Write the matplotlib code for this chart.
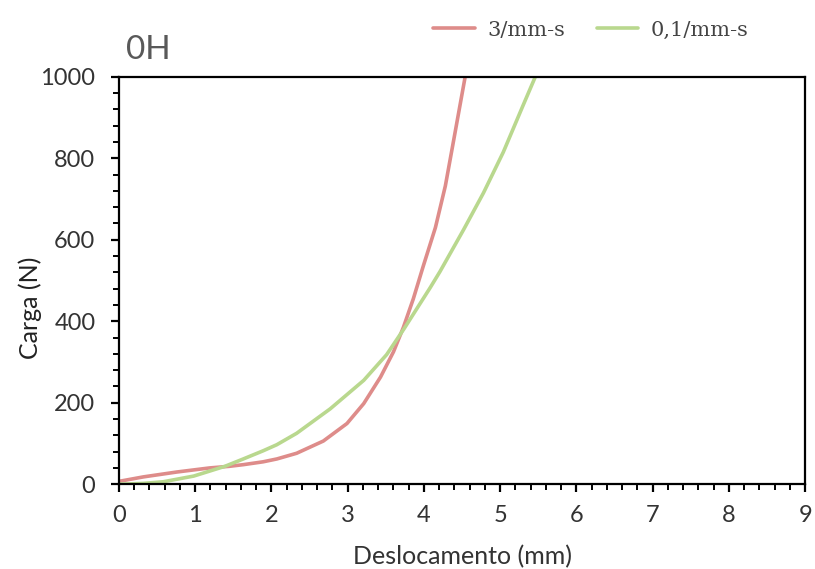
import matplotlib.pyplot as plt
from matplotlib.ticker import MultipleLocator

# 3/mm-s curve
red_x = [0, 0.32, 0.76, 1.19, 1.45, 1.63, 1.89, 2.07, 2.33, 2.68, 2.99, 3.21,
         3.43, 3.60, 3.73, 3.86, 3.99, 4.15, 4.28, 4.39, 4.54]
red_y = [7, 18, 30, 40, 44, 48, 55, 62, 76, 106, 149, 198,
         263, 325, 385, 455, 535, 630, 732, 845, 1000]

# 0,1/mm-s curve
green_x = [0, 0.32, 0.58, 0.98, 1.39, 1.63, 1.89, 2.07, 2.33, 2.77, 3.21, 3.51,
           3.74, 4.08, 4.21, 4.52, 4.78, 5.04, 5.30, 5.46]
green_y = [0, 2, 6, 20, 44, 62, 82, 97, 125, 185, 255, 318,
           382, 482, 522, 625, 715, 815, 930, 1000]

labels = ['3/mm-s', '0,1/mm-s']
colors = ['#DE8C8A', '#B9D88E']

plt.rcParams['font.family'] = ['Lato', 'DejaVu Sans']

fig = plt.figure(figsize=(8.15, 5.69), dpi=100)
ax = fig.add_axes([0.146, 0.149, 0.842, 0.716])

l1, = ax.plot(red_x, red_y, color=colors[0], lw=2.6,
              solid_capstyle='round', solid_joinstyle='round')
l2, = ax.plot(green_x, green_y, color=colors[1], lw=2.6,
              solid_capstyle='round', solid_joinstyle='round')

ax.set_xlim(0, 9)
ax.set_ylim(0, 1000)
ax.xaxis.set_major_locator(MultipleLocator(1))
ax.xaxis.set_minor_locator(MultipleLocator(0.2))
ax.yaxis.set_major_locator(MultipleLocator(200))
ax.yaxis.set_minor_locator(MultipleLocator(40))

for s in ax.spines.values():
    s.set_linewidth(1.6)
    s.set_color('black')

ax.tick_params(axis='x', which='major', direction='out', length=6, width=1.6,
               labelsize=17, pad=9, labelcolor='#333333')
ax.tick_params(axis='x', which='minor', direction='out', length=4, width=1.4)
ax.tick_params(axis='y', which='major', direction='out', length=6, width=1.6,
               labelsize=17, pad=11, labelcolor='#333333')
ax.tick_params(axis='y', which='minor', direction='out', length=4.5, width=1.4)

ax.set_xlabel('Deslocamento (mm)', fontsize=18, color='#333333')
ax.xaxis.set_label_coords(0.5, -0.15)
ax.set_ylabel('Carga (N)', fontsize=18, color='#222222')
ax.yaxis.set_label_coords(-0.112, 0.434)

fig.text(0.155, 0.912, '0H', fontsize=24, color='#595959',
         va='center', ha='left')

fig.legend([l1, l2], labels, loc='center', bbox_to_anchor=(0.725, 0.947), ncol=2,
           frameon=False, handlelength=2.0, columnspacing=1.5, handletextpad=0.6,
           prop={'family': 'DejaVu Serif', 'size': 15}, labelcolor='#444444')

fig.savefig('out.png', dpi=100)
